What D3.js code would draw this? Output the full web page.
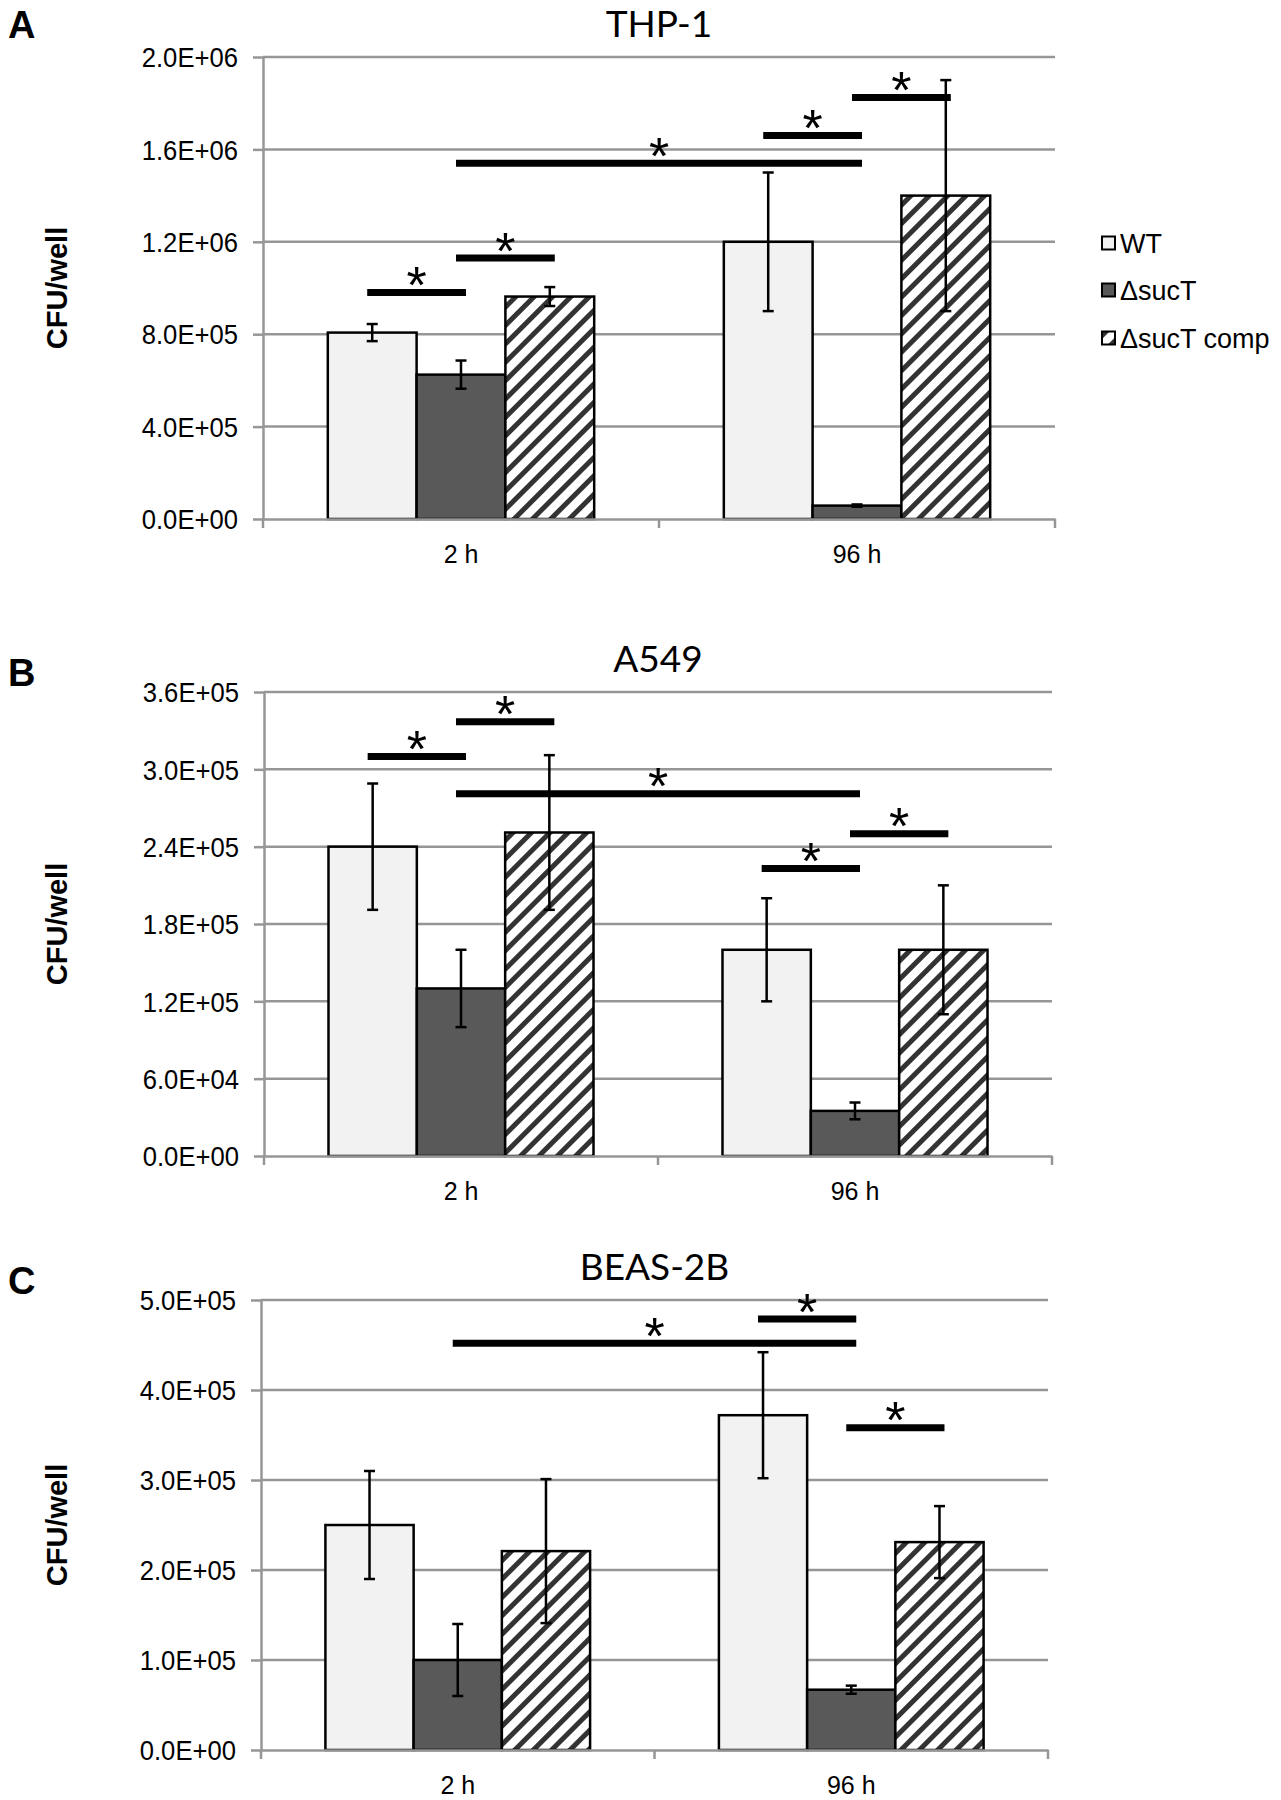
<!DOCTYPE html>
<html><head><meta charset="utf-8">
<script src="https://cdn.jsdelivr.net/npm/d3@7"></script>
<style>body{margin:0;background:#fff}</style>
</head><body>
<svg id="chart" width="1281" height="1800" xmlns="http://www.w3.org/2000/svg"></svg>
<script>
// ---------- DATA ----------
const categories = ["2 h", "96 h"];
const seriesNames = ["WT", "ΔsucT", "ΔsucT comp"];

// Panel A: THP-1  (values per series, [2 h, 96 h])
const thp1WT = [8.07e5, 1.20e6];
const thp1WTErr = [3.7e4, 3.0e5];
const thp1Suc = [6.25e5, 5.8e4];
const thp1SucErr = [6.1e4, 5.0e3];
const thp1Comp = [9.63e5, 1.40e6];
const thp1CompErr = [4.1e4, 5.0e5];
const thp1Ticks = [0, 4e5, 8e5, 1.2e6, 1.6e6, 2.0e6];
const thp1TickLabels = ["0.0E+00", "4.0E+05", "8.0E+05", "1.2E+06", "1.6E+06", "2.0E+06"];
// significance: [fromCategory, fromSeries, toCategory, toSeries, level]
const thp1Sig = [[0, 0, 0, 1, 9.8e5], [0, 1, 0, 2, 1.13e6], [0, 1, 1, 1, 1.54e6], [1, 0, 1, 1, 1.66e6], [1, 1, 1, 2, 1.825e6]];

// Panel B: A549
const a549WT = [2.40e5, 1.60e5];
const a549WTErr = [4.9e4, 4.0e4];
const a549Suc = [1.30e5, 3.5e4];
const a549SucErr = [3.0e4, 6.5e3];
const a549Comp = [2.51e5, 1.60e5];
const a549CompErr = [6.0e4, 5.0e4];
const a549Ticks = [0, 6e4, 1.2e5, 1.8e5, 2.4e5, 3.0e5, 3.6e5];
const a549TickLabels = ["0.0E+00", "6.0E+04", "1.2E+05", "1.8E+05", "2.4E+05", "3.0E+05", "3.6E+05"];
const a549Sig = [[0, 0, 0, 1, 3.10e5], [0, 1, 0, 2, 3.37e5], [0, 1, 1, 1, 2.81e5], [1, 0, 1, 1, 2.23e5], [1, 1, 1, 2, 2.50e5]];

// Panel C: BEAS-2B
const beasWT = [2.50e5, 3.72e5];
const beasWTErr = [6.0e4, 7.0e4];
const beasSuc = [1.00e5, 6.7e4];
const beasSucErr = [4.0e4, 4.5e3];
const beasComp = [2.21e5, 2.31e5];
const beasCompErr = [8.0e4, 4.0e4];
const beasTicks = [0, 1e5, 2e5, 3e5, 4e5, 5e5];
const beasTickLabels = ["0.0E+00", "1.0E+05", "2.0E+05", "3.0E+05", "4.0E+05", "5.0E+05"];
const beasSig = [[0, 1, 1, 1, 4.52e5], [1, 0, 1, 1, 4.79e5], [1, 1, 1, 2, 3.58e5]];

// ---------- LAYOUT ----------
const panels = [
  { letter: "A", title: "THP-1", x0: 263, x1: 1055, yTop: 57, yZero: 519, letterY: 38,
    means: [thp1WT, thp1Suc, thp1Comp], errs: [thp1WTErr, thp1SucErr, thp1CompErr],
    ticks: thp1Ticks, labels: thp1TickLabels, sig: thp1Sig, legend: true },
  { letter: "B", title: "A549", x0: 264, x1: 1052, yTop: 692, yZero: 1156, letterY: 686,
    means: [a549WT, a549Suc, a549Comp], errs: [a549WTErr, a549SucErr, a549CompErr],
    ticks: a549Ticks, labels: a549TickLabels, sig: a549Sig, legend: false },
  { letter: "C", title: "BEAS-2B", x0: 261, x1: 1048, yTop: 1300, yZero: 1750, letterY: 1294,
    means: [beasWT, beasSuc, beasComp], errs: [beasWTErr, beasSucErr, beasCompErr],
    ticks: beasTicks, labels: beasTickLabels, sig: beasSig, legend: false }
];

const GRID = "#969696";
const fills = ["#f2f2f2", "#595959", "url(#hatch)"];
const svg = d3.select("#chart");

const defs = svg.append("defs");
const pat = defs.append("pattern").attr("id", "hatch").attr("patternUnits", "userSpaceOnUse")
  .attr("width", 13).attr("height", 13).attr("patternTransform", "rotate(45)");
pat.append("rect").attr("width", 13).attr("height", 13).attr("fill", "#fff");
pat.append("rect").attr("width", 5).attr("height", 13).attr("fill", "#333");

panels.forEach(p => {
  const g = svg.append("g");
  const x = d3.scaleBand().domain(categories).range([p.x0, p.x1]).paddingInner(0).paddingOuter(0);
  const xs = d3.scaleBand().domain(d3.range(seriesNames.length)).range([0, x.bandwidth()])
    .paddingInner(0).paddingOuter(0.73);
  const yMax = p.ticks[p.ticks.length - 1];
  const y = d3.scaleLinear().domain([0, yMax]).range([p.yZero, p.yTop]);
  const bw = xs.bandwidth();
  const cx = (ci, si) => x(categories[ci]) + xs(si) + bw / 2;

  // gridlines
  g.append("g").selectAll("line").data(p.ticks.slice(1)).join("line")
    .attr("x1", p.x0).attr("x2", p.x1).attr("y1", d => y(d)).attr("y2", d => y(d))
    .attr("stroke", GRID).attr("stroke-width", 2.5);

  // bars
  seriesNames.forEach((s, si) => {
    g.append("g").selectAll("rect").data(p.means[si]).join("rect")
      .attr("x", (d, ci) => x(categories[ci]) + xs(si))
      .attr("width", bw)
      .attr("y", d => y(d))
      .attr("height", d => y(0) - y(d))
      .attr("fill", fills[si]).attr("stroke", "#000").attr("stroke-width", 2.5);
  });

  // y axis
  const yAxis = d3.axisLeft(y).tickValues(p.ticks).tickSize(10).tickSizeOuter(0)
    .tickFormat((d, i) => p.labels[i]);
  const ya = g.append("g").attr("transform", `translate(${p.x0},0)`).call(yAxis);
  ya.select(".domain").attr("stroke", GRID).attr("stroke-width", 2.5);
  ya.selectAll(".tick line").attr("stroke", GRID).attr("stroke-width", 2.5);
  ya.selectAll(".tick text").attr("x", 0).attr("dy", "0.36em")
    .attr("transform", "translate(-25,0) scale(0.95,1)")
    .attr("font-family", "'Liberation Sans', Arial, sans-serif").attr("font-size", 27).attr("fill", "#000");

  // x axis
  const xAxis = d3.axisBottom(x).tickSize(0).tickSizeOuter(0).tickPadding(31);
  const xa = g.append("g").attr("transform", `translate(0,${p.yZero})`).call(xAxis);
  xa.select(".domain").attr("stroke", GRID).attr("stroke-width", 2.5);
  xa.selectAll(".tick text").attr("font-family", "'Liberation Sans', Arial, sans-serif")
    .attr("font-size", 25).attr("fill", "#000").attr("dy", "0.5em");
  const bounds = categories.map(c => x(c)).concat([p.x1]);
  g.append("g").selectAll("line").data(bounds).join("line")
    .attr("x1", d => d).attr("x2", d => d).attr("y1", p.yZero).attr("y2", p.yZero + 9)
    .attr("stroke", GRID).attr("stroke-width", 2.5);

  // error bars
  seriesNames.forEach((s, si) => {
    p.means[si].forEach((m, ci) => {
      const e = p.errs[si][ci];
      const xc = cx(ci, si);
      const eg = g.append("g").attr("stroke", "#000").attr("stroke-width", 2.5);
      eg.append("line").attr("x1", xc).attr("x2", xc).attr("y1", y(m + e)).attr("y2", y(m - e));
      eg.append("line").attr("x1", xc - 5.5).attr("x2", xc + 5.5).attr("y1", y(m + e)).attr("y2", y(m + e));
      eg.append("line").attr("x1", xc - 5.5).attr("x2", xc + 5.5).attr("y1", y(m - e)).attr("y2", y(m - e));
    });
  });

  // significance bars + stars
  p.sig.forEach(sg => {
    const xa1 = cx(sg[0], sg[1]) - 5, xa2 = cx(sg[2], sg[3]) + 5, yy = y(sg[4]);
    g.append("line").attr("x1", xa1).attr("x2", xa2).attr("y1", yy).attr("y2", yy)
      .attr("stroke", "#000").attr("stroke-width", 7);
    g.append("text").attr("x", (xa1 + xa2) / 2).attr("y", yy - 19 + 0.57 * 52)
      .attr("text-anchor", "middle").attr("font-family", "'Liberation Sans', Arial, sans-serif")
      .attr("font-size", 52).text("*");
  });

  // title
  g.append("text").attr("x", (p.x0 + p.x1) / 2).attr("y", p.yTop - 20).attr("text-anchor", "middle")
    .attr("font-family", "Lato, 'Open Sans', sans-serif").attr("font-size", 37).text(p.title);
  // panel letter
  g.append("text").attr("x", 8).attr("y", p.letterY).attr("font-family", "'Liberation Sans', Arial, sans-serif")
    .attr("font-weight", "bold").attr("font-size", 38).text(p.letter);
  // y label
  g.append("text").attr("transform", `translate(67,${(p.yTop + p.yZero) / 2}) rotate(-90)`)
    .attr("text-anchor", "middle").attr("font-family", "'Liberation Sans', Arial, sans-serif")
    .attr("font-weight", "bold").attr("font-size", 29).text("CFU/well");

  // legend
  if (p.legend) {
    const legY = [243, 290, 338];
    const lg = g.append("g");
    seriesNames.forEach((s, si) => {
      lg.append("rect").attr("x", 1102).attr("y", legY[si] - 6.5).attr("width", 13).attr("height", 13)
        .attr("fill", fills[si]).attr("stroke", "#000").attr("stroke-width", 2);
      lg.append("text").attr("x", 1120).attr("y", legY[si]).attr("dy", "0.36em")
        .attr("font-family", "'Liberation Sans', Arial, sans-serif").attr("font-size", 27).text(s);
    });
  }
});
</script>
</body></html>
